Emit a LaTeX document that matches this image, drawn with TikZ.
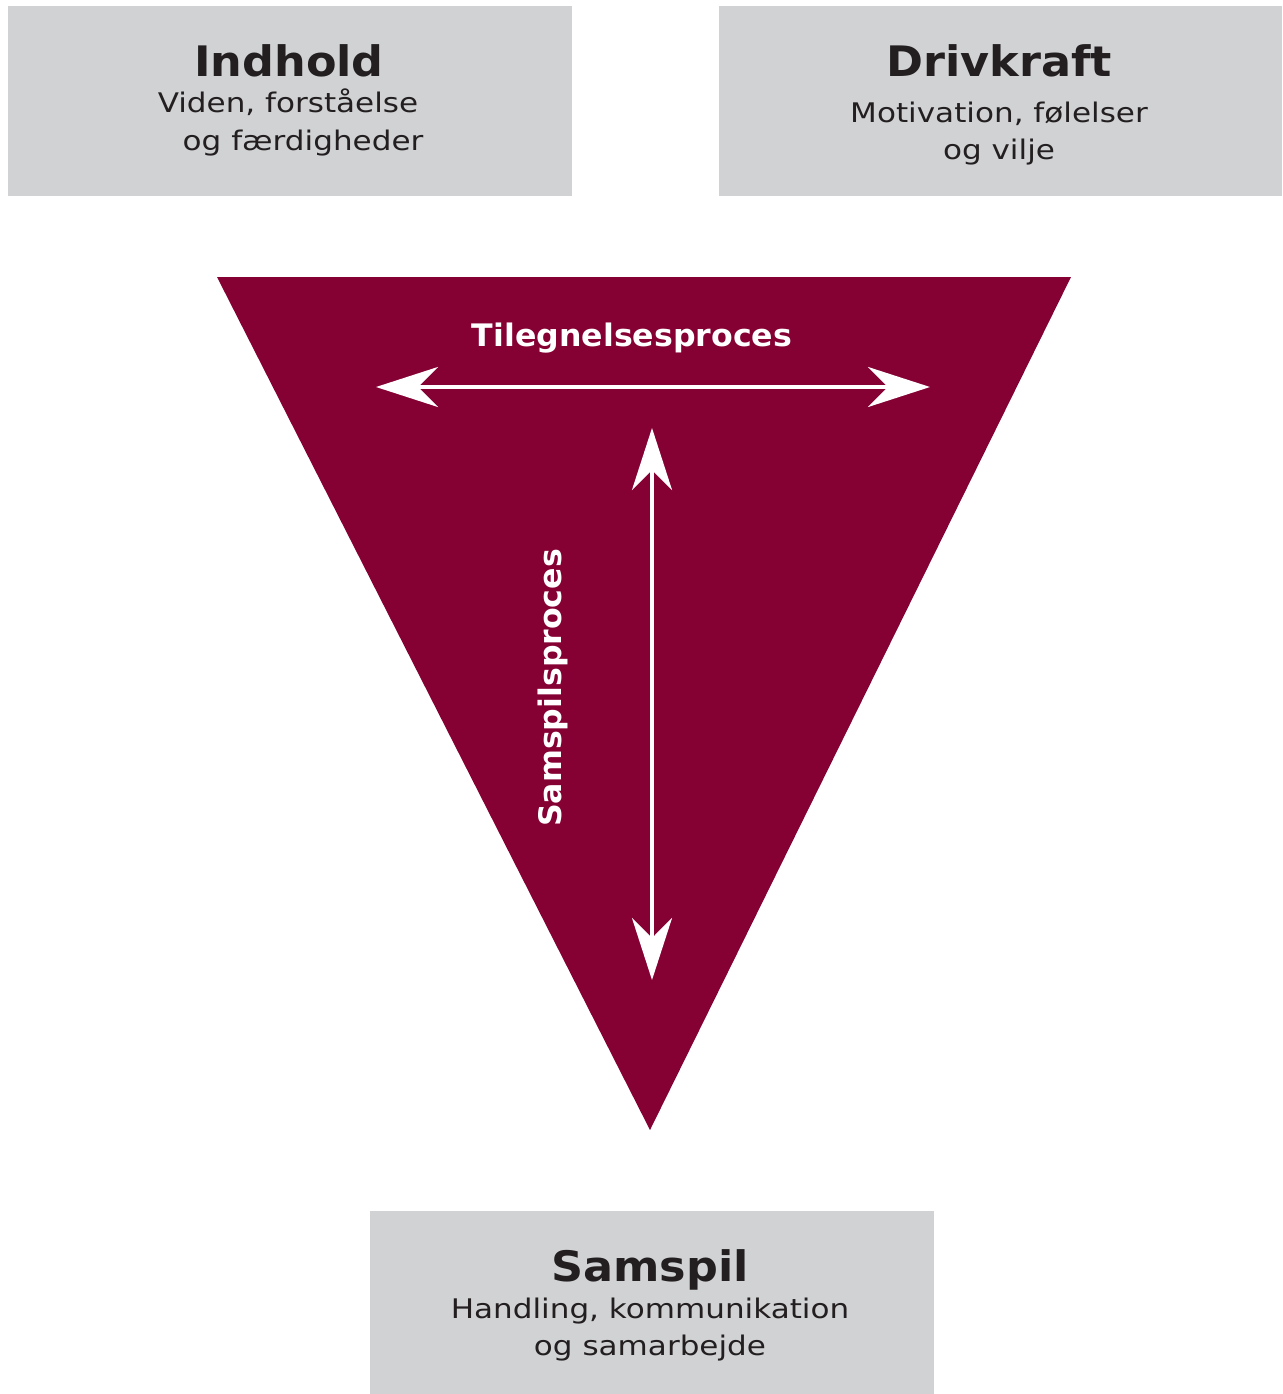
\documentclass[tikz,border=0pt]{standalone}
\usepackage{fontspec}
\setmainfont{DejaVu Sans}
\newfontfamily\subfont[FakeStretch=1.15]{DejaVu Sans}
\newfontfamily\headfont[FakeStretch=1.06]{DejaVu Sans}
\newfontfamily\procfont[FakeStretch=1.02]{DejaVu Sans}
\usetikzlibrary{arrows.meta}
\definecolor{boxgray}{HTML}{D1D2D4}
\definecolor{wine}{HTML}{850033}
\definecolor{ink}{HTML}{231F20}
\tikzset{
  x=1pt, y=-1pt,
  infobox/.style={fill=boxgray, draw=none, inner sep=0pt},
  headline/.style={anchor=base, text=ink, inner sep=0pt, font=\headfont\fontsize{42}{42}\selectfont\bfseries},
  subline/.style={anchor=base, text=ink, inner sep=0pt, font=\subfont\fontsize{27}{27}\selectfont},
  proclabel/.style={text=white, inner sep=0pt, font=\procfont\fontsize{31}{31}\selectfont\bfseries},
  procarrow/.style={draw=white, line width=4pt,
    {Stealth[length=62pt, width=40pt, inset=20pt]}-{Stealth[length=62pt, width=40pt, inset=20pt]}},
}
\begin{document}
\begin{tikzpicture}
\useasboundingbox (0,0) rectangle (1282,1394);

% three grey boxes
\node[infobox, minimum width=564, minimum height=190] (indhold) at (290,101) {};
\node[infobox, minimum width=563, minimum height=190] (drivkraft) at (1000.5,101) {};
\node[infobox, minimum width=564, minimum height=183] (samspil) at (652,1302.5) {};

\node[headline] (indholdT) at (289,77) {Indhold};
\node[subline] (indholdA) at (288,113) {Viden, forståelse};
\node[subline] (indholdB) at (303,150) {og færdigheder};

\node[headline] (drivkraftT) at (999,77) {Drivkraft};
\node[subline] (drivkraftA) at (999,123) {Motivation, følelser};
\node[subline] (drivkraftB) at (999,160) {og vilje};

\node[headline] (samspilT) at (650,1281) {Samspil};
\node[subline] (samspilA) at (650,1318) {Handling, kommunikation};
\node[subline] (samspilB) at (650,1355) {og samarbejde};

% inverted triangle
\coordinate (triL) at (217,277);
\coordinate (triR) at (1071,277);
\coordinate (triB) at (650,1130);
\fill[wine] (triL) -- (triR) -- (triB) -- cycle;

% process arrows
\coordinate (hL) at (376,387);
\coordinate (hR) at (930,387);
\coordinate (vT) at (652,428);
\coordinate (vB) at (652,980);
\draw[procarrow] (hL) -- (hR);
\draw[procarrow] (vT) -- (vB);

\node[proclabel, anchor=base] (tileg) at (632,346) {Tilegnelsesproces};
\node[proclabel, rotate=90] (samproc) at (553,688) {Samspilsproces};
\end{tikzpicture}
\end{document}
